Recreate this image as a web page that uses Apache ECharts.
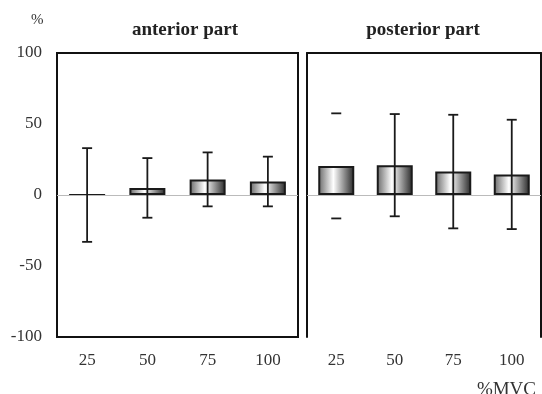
<!DOCTYPE html>
<html><head><meta charset="utf-8">
<script src="https://cdn.jsdelivr.net/npm/echarts@6/dist/echarts.min.js"></script>
<style>html,body{margin:0;padding:0;background:#fff}#c{width:542px;height:394px}</style>
</head><body><div id="c"></div>
<script>
const categories = ['25', '50', '75', '100'];
const anteriorMean = [0, 5, 11, 9.5];
const anteriorSD = [33, 21, 19, 17.5];
const posteriorMean = [20.5, 21, 16.5, 14.5];
const posteriorSD = [37, 36, 40, 38.5];
const posteriorShowStem = [false, true, true, true];
const yTicks = [-100, -50, 0, 50, 100];

const FONT = '"Liberation Serif", "DejaVu Serif", serif';
const chart = echarts.init(document.getElementById('c'));

const barFill = new echarts.graphic.LinearGradient(0, 0, 1, 0, [
  {offset: 0, color: '#666666'},
  {offset: 0.42, color: '#ffffff'},
  {offset: 1, color: '#262626'}
]);

function errData(mean, sd, stem) {
  return mean.map((m, i) => [i, m - sd[i], m + sd[i], stem ? (stem[i] ? 1 : 0) : 1]);
}
function renderErr(params, api) {
  const x = api.value(0);
  const lo = api.coord([x, api.value(1)]);
  const hi = api.coord([x, api.value(2)]);
  const hw = 5;
  const st = {stroke: '#1a1a1a', lineWidth: 1.8};
  const ch = [
    {type: 'line', shape: {x1: lo[0] - hw, y1: lo[1], x2: lo[0] + hw, y2: lo[1]}, style: st},
    {type: 'line', shape: {x1: hi[0] - hw, y1: hi[1], x2: hi[0] + hw, y2: hi[1]}, style: st}
  ];
  if (api.value(3)) ch.push({type: 'line', shape: {x1: lo[0], y1: lo[1], x2: hi[0], y2: hi[1]}, style: st});
  return {type: 'group', children: ch};
}

const labelCommon = {fontFamily: FONT, fontSize: 17, color: '#333'};
const zeroLine = {
  silent: true, symbol: 'none', label: {show: false},
  lineStyle: {color: '#bbb', width: 1, type: 'solid'},
  data: [{yAxis: 0}]
};

chart.setOption({
  animation: false,
  title: [
    {text: 'anterior part', left: 180, top: 16, textAlign: 'center',
     textStyle: {fontFamily: FONT, fontSize: 19, fontWeight: 'bold', color: '#222'}},
    {text: 'posterior part', left: 418, top: 16, textAlign: 'center',
     textStyle: {fontFamily: FONT, fontSize: 19, fontWeight: 'bold', color: '#222'}},
    {text: '%', left: 26, top: 8, textStyle: {fontFamily: FONT, fontSize: 15, fontWeight: 'normal', color: '#333'}},
    {text: '%MVC', right: 1, top: 376, textStyle: {fontFamily: FONT, fontSize: 19, fontWeight: 'normal', color: '#333'}}
  ],
  grid: [
    {left: 57, right: 244, top: 53, bottom: 57, show: true, borderColor: '#111', borderWidth: 2},
    {left: 307, right: 1, top: 53, bottom: 57}
  ],
  xAxis: [
    {type: 'category', gridIndex: 0, data: categories, axisLine: {show: false}, axisTick: {show: false},
     axisLabel: {...labelCommon, margin: 15}},
    {type: 'category', gridIndex: 1, data: categories, axisLine: {show: false}, axisTick: {show: false},
     axisLabel: {...labelCommon, margin: 15}},
    {type: 'category', gridIndex: 1, position: 'top', data: categories,
     axisLine: {show: true, onZero: false, lineStyle: {color: '#111', width: 2}}, axisTick: {show: false}, axisLabel: {show: false}}
  ],
  yAxis: [
    {type: 'value', gridIndex: 0, min: -100, max: 100, interval: 50, splitLine: {show: false},
     axisLine: {show: false}, axisTick: {show: false}, axisLabel: {...labelCommon, margin: 15}},
    {type: 'value', gridIndex: 1, min: -100, max: 100, interval: 50, splitLine: {show: false},
     axisLine: {show: true, lineStyle: {color: '#111', width: 2}}, axisTick: {show: false}, axisLabel: {show: false}},
    {type: 'value', gridIndex: 1, position: 'right', min: -100, max: 100, interval: 50, splitLine: {show: false},
     axisLine: {show: true, lineStyle: {color: '#111', width: 2}}, axisTick: {show: false}, axisLabel: {show: false}}
  ],
  series: [
    {type: 'bar', xAxisIndex: 0, yAxisIndex: 0, data: anteriorMean, barWidth: 36,
     itemStyle: {color: barFill, borderColor: '#1a1a1a', borderWidth: 2}, markLine: zeroLine, z: 2},
    {type: 'bar', xAxisIndex: 1, yAxisIndex: 1, data: posteriorMean, barWidth: 36,
     itemStyle: {color: barFill, borderColor: '#1a1a1a', borderWidth: 2}, markLine: zeroLine, z: 2},
    {type: 'custom', xAxisIndex: 0, yAxisIndex: 0, data: errData(anteriorMean, anteriorSD), renderItem: renderErr, z: 5},
    {type: 'custom', xAxisIndex: 1, yAxisIndex: 1, data: errData(posteriorMean, posteriorSD, posteriorShowStem), renderItem: renderErr, z: 5}
  ]
});
</script></body></html>
